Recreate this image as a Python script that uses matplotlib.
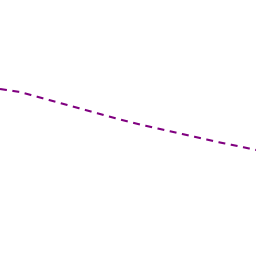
import matplotlib
matplotlib.use("Agg")
import matplotlib.pyplot as plt

plt.rcParams["lines.scale_dashes"] = False

x_vals = [0, 20, 40, 60, 80, 100, 120, 140, 160, 180, 200, 220, 240, 256]
y_vals = [89, 92, 97.5, 103, 108.5, 114, 119.5, 124.5, 129, 133.5, 138,
          142.5, 146.5, 150]

fig = plt.figure(figsize=(2.56, 2.56), dpi=100, facecolor="white")
ax = fig.add_axes([0, 0, 1, 1])
ax.plot(x_vals, y_vals, color="#800080", linewidth=1.5,
        linestyle=(0, (5, 4)))
ax.set_xlim(0, 256)
ax.set_ylim(256, 0)
ax.axis("off")
fig.savefig("out.png", dpi=100, facecolor="white")
